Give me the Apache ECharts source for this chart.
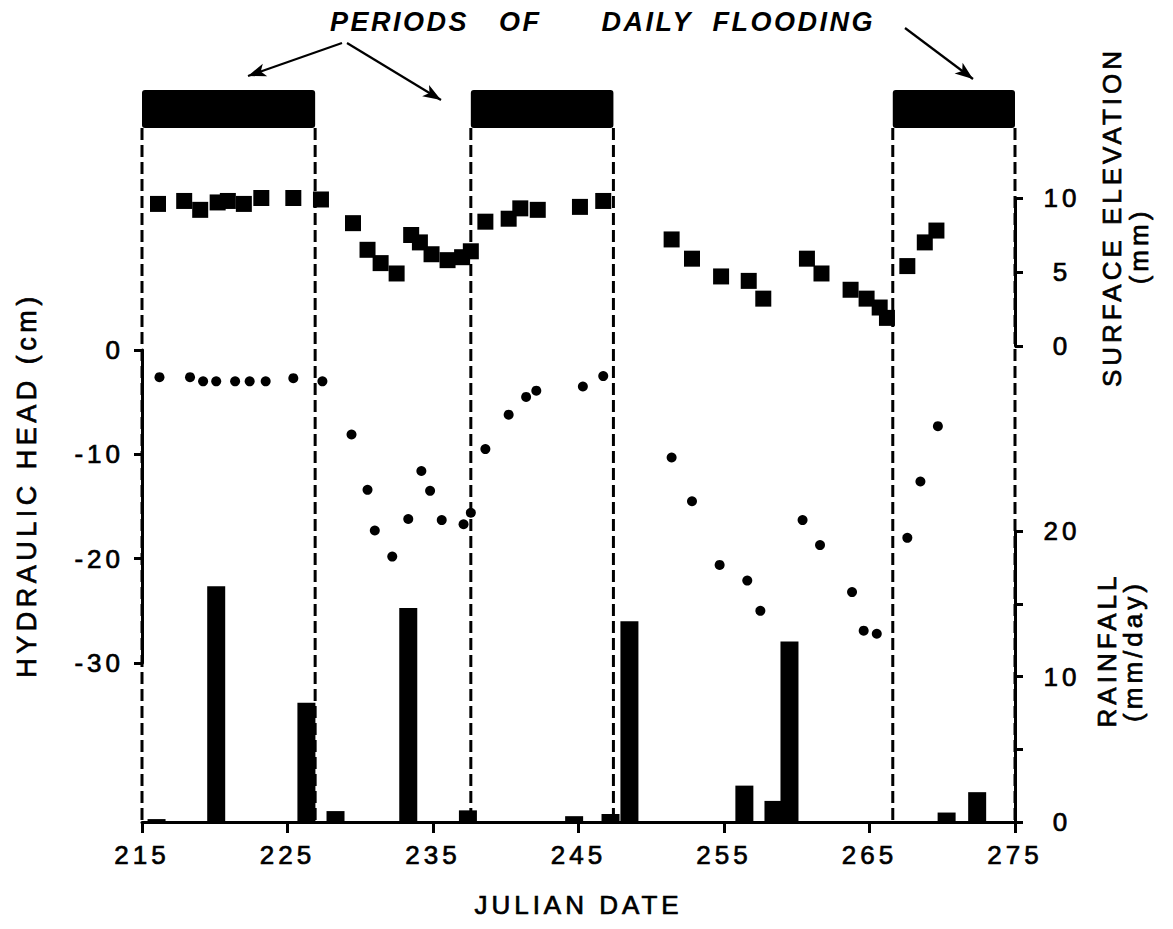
<!DOCTYPE html>
<html>
<head>
<meta charset="utf-8">
<title>Periods of daily flooding</title>
<script src="https://cdn.jsdelivr.net/npm/echarts@6/dist/echarts.min.js"></script>
<style>
  html, body { margin: 0; padding: 0; background: #fff; }
  #chart { width: 1173px; height: 929px; }
  /* lettering in the original is set wide */
  #chart text { letter-spacing: 4px; }
  #chart text[style*="27px"] { letter-spacing: 4.5px; }
  #chart text[style*="italic"] { letter-spacing: 2.5px; }
</style>
</head>
<body>
<div id="chart"></div>
<script>
// julian day range of the x axis
const dayMin = 215;
const dayMax = 275;

// periods of daily flooding (julian day)
const floodStart = [215, 237.6, 266.6];
const floodEnd = [226.9, 247.4, 275];

// surface elevation (mm)
const elevDays = [216.1, 217.9, 219.0, 220.2, 220.9, 222.0, 223.2, 225.4, 227.3,
  229.5, 230.5, 231.4, 232.5, 233.5, 234.1, 234.9, 236.0, 237.0, 237.6,
  238.6, 240.2, 241.0, 242.2, 245.1, 246.7,
  251.4, 252.8, 254.8, 256.7, 257.7, 260.7, 261.7, 263.7, 264.8, 265.7, 266.2,
  267.6, 268.8, 269.6];
const elevMm = [9.6, 9.8, 9.2, 9.7, 9.8, 9.6, 10.0, 10.0, 9.9,
  8.3, 6.5, 5.6, 4.9, 7.5, 7.0, 6.2, 5.8, 6.0, 6.4,
  8.4, 8.6, 9.3, 9.2, 9.4, 9.8,
  7.2, 5.9, 4.7, 4.4, 3.2, 5.9, 4.9, 3.8, 3.2, 2.6, 1.9,
  5.4, 7.0, 7.8];

// hydraulic head (cm)
const headDays = [216.2, 218.3, 219.2, 220.1, 221.4, 222.4, 223.5, 225.4, 227.4,
  229.4, 230.5, 231.0, 232.2, 233.3, 234.2, 234.8, 235.6, 237.1, 237.6,
  238.6, 240.2, 241.4, 242.1, 245.3, 246.7,
  251.4, 252.8, 254.7, 256.6, 257.5, 260.4, 261.6, 263.8, 264.6, 265.5,
  267.6, 268.5, 269.7];
const headCm = [-2.6, -2.6, -3.0, -3.0, -3.0, -3.0, -3.0, -2.7, -3.0,
  -8.1, -13.4, -17.3, -19.8, -16.2, -11.6, -13.5, -16.3, -16.7, -15.6,
  -9.5, -6.2, -4.5, -3.9, -3.5, -2.5,
  -10.3, -14.5, -20.6, -22.1, -25.0, -16.3, -18.7, -23.2, -26.9, -27.2,
  -18.0, -12.6, -7.3];

// rainfall (mm/day)
const rainDays = [216.0, 220.1, 226.3, 228.3, 233.3, 237.4, 244.7, 247.2, 248.5,
  256.4, 258.4, 259.5, 270.3, 272.4];
const rainMm = [0.2, 16.2, 8.2, 0.75, 14.7, 0.8, 0.4, 0.55, 13.8,
  2.5, 1.45, 12.4, 0.65, 2.05];

const font = 'Liberation Sans';
const ink = '#000';

const zip = (a, b) => a.map((v, i) => [v, b[i]]);
const floodEdges = floodStart.concat(floodEnd);

const chart = echarts.init(document.getElementById('chart'), null, { renderer: 'svg' });

const left = 142;
const right = 158;

function hiddenX(gridIndex) {
  return { type: 'value', gridIndex: gridIndex, min: dayMin, max: dayMax, show: false };
}

// the scanned lettering is a little heavier than a plain regular face
const labelStyle = { color: ink, fontFamily: font, fontSize: 26, textBorderColor: ink, textBorderWidth: 0.7 };

function axisTitle(text, x, y, size) {
  return {
    type: 'text', x: x, y: y, rotation: Math.PI / 2,
    style: {
      text: text, fill: ink, fontFamily: font, fontSize: size || 26,
      stroke: ink, lineWidth: 0.7,
      align: 'center', verticalAlign: 'middle'
    }
  };
}

const options = {
  animation: false,
  backgroundColor: '#fff',
  title: {
    text: 'PERIODS   OF      DAILY  FLOODING',
    left: 330,
    top: 8,
    padding: 0,
    textStyle: { color: ink, fontFamily: font, fontSize: 27, fontWeight: 'bold', fontStyle: 'italic' }
  },
  grid: [
    { left: left, right: right, top: 531, bottom: 107 },  // rainfall
    { left: left, right: right, top: 198, height: 148 },  // surface elevation
    { left: left, right: right, top: 350, height: 313 },  // hydraulic head
    { left: left, right: right, top: 90, height: 38 },    // flooding bars
    { left: left, right: right, top: 128, bottom: 107 }   // dashed frame
  ],
  xAxis: [
    {
      type: 'value',
      gridIndex: 0,
      min: dayMin,
      max: dayMax,
      interval: 10,
      name: 'JULIAN DATE',
      nameLocation: 'middle',
      nameGap: 70,
      nameTextStyle: labelStyle,
      axisLine: { onZero: false, lineStyle: { color: ink, width: 3 } },
      axisTick: { length: 11, lineStyle: { color: ink, width: 3 } },
      axisLabel: Object.assign({ margin: 20 }, labelStyle),
      splitLine: { show: false }
    },
    hiddenX(1),
    hiddenX(2),
    hiddenX(3),
    hiddenX(4)
  ],
  yAxis: [
    {
      type: 'value',
      gridIndex: 0,
      position: 'right',
      min: 0,
      max: 20,
      interval: 5,
      axisLine: { show: true, onZero: false, lineStyle: { color: ink, width: 3 } },
      axisTick: { show: true, length: 8, lineStyle: { color: ink, width: 3 } },
      axisLabel: Object.assign({
        margin: 47,
        align: 'center',
        formatter: function (v) { return v % 10 === 0 ? String(v) : ''; }
      }, labelStyle),
      splitLine: { show: false }
    },
    {
      type: 'value',
      gridIndex: 1,
      position: 'right',
      min: 0,
      max: 10,
      interval: 5,
      axisLine: { show: true, onZero: false, lineStyle: { color: ink, width: 3 } },
      axisTick: { show: true, length: 8, lineStyle: { color: ink, width: 3 } },
      axisLabel: Object.assign({ margin: 47, align: 'center' }, labelStyle),
      splitLine: { show: false }
    },
    {
      type: 'value',
      gridIndex: 2,
      position: 'left',
      min: -30,
      max: 0,
      interval: 10,
      axisLine: { show: true, onZero: false, lineStyle: { color: ink, width: 3 } },
      axisTick: { show: true, length: 8, lineStyle: { color: ink, width: 3 } },
      axisLabel: Object.assign({ margin: 18 }, labelStyle),
      splitLine: { show: false }
    },
    { type: 'value', gridIndex: 3, min: 0, max: 1, show: false },
    { type: 'value', gridIndex: 4, min: 0, max: 1, show: false }
  ],
  graphic: [
    axisTitle('HYDRAULIC HEAD (cm)', 27, 485, 27),
    axisTitle('SURFACE ELEVATION', 1112, 217),
    axisTitle('(mm)', 1139, 246),
    axisTitle('RAINFALL', 1107, 650),
    axisTitle('(mm/day)', 1133, 651)
  ],
  series: [
    {
      // dashed lines dropping from the flooding bars
      type: 'custom',
      xAxisIndex: 4,
      yAxisIndex: 4,
      z: 1,
      data: floodEdges.map(function (d) { return [d, 1]; }),
      renderItem: function (params, api) {
        const top = api.coord([api.value(0), 1]);
        const bottom = api.coord([api.value(0), 0]);
        return {
          type: 'line',
          shape: { x1: top[0], y1: top[1], x2: bottom[0], y2: bottom[1] },
          style: { stroke: ink, lineWidth: 3, lineDash: [12, 5] }
        };
      }
    },
    {
      // periods of daily flooding
      type: 'custom',
      xAxisIndex: 3,
      yAxisIndex: 3,
      encode: { x: [0, 1] },
      data: zip(floodStart, floodEnd),
      renderItem: function (params, api) {
        const a = api.coord([api.value(0), 1]);
        const b = api.coord([api.value(1), 0]);
        return {
          type: 'rect',
          shape: { x: a[0], y: a[1], width: b[0] - a[0], height: b[1] - a[1], r: 3 },
          style: { fill: ink }
        };
      },
      markLine: {
        silent: true,
        symbol: ['none', 'arrow'],
        symbolSize: [10, 18],
        label: { show: false },
        lineStyle: { color: ink, width: 2.2, type: 'solid' },
        data: [
          [{ x: 342, y: 43 }, { x: 248, y: 76 }],
          [{ x: 347, y: 43 }, { x: 441, y: 100 }],
          [{ x: 905, y: 28 }, { x: 973, y: 79 }]
        ]
      }
    },
    {
      name: 'Rainfall',
      type: 'bar',
      xAxisIndex: 0,
      yAxisIndex: 0,
      barWidth: 18,
      itemStyle: { color: ink, opacity: 1 },
      data: zip(rainDays, rainMm)
    },
    {
      name: 'Surface elevation',
      type: 'scatter',
      xAxisIndex: 1,
      yAxisIndex: 1,
      symbol: 'rect',
      symbolSize: 16,
      clip: false,
      itemStyle: { color: ink, opacity: 1 },
      data: zip(elevDays, elevMm)
    },
    {
      name: 'Hydraulic head',
      type: 'scatter',
      xAxisIndex: 2,
      yAxisIndex: 2,
      symbol: 'circle',
      symbolSize: 10,
      clip: false,
      itemStyle: { color: ink, opacity: 1 },
      data: zip(headDays, headCm)
    }
  ]
};

chart.setOption(options);
window.addEventListener('resize', function () {
  chart.resize();
});
</script>
</body>
</html>
